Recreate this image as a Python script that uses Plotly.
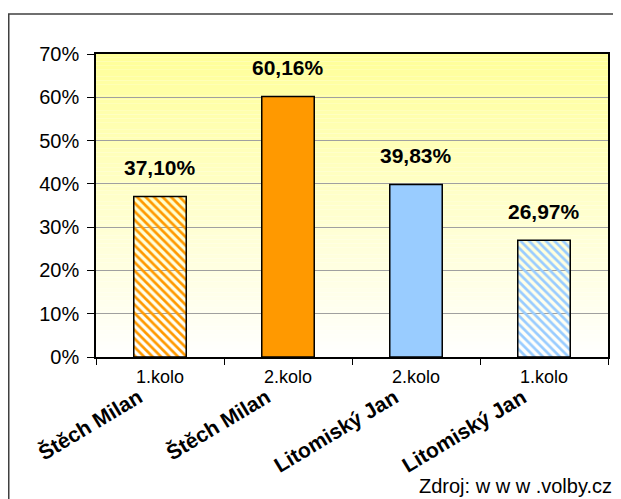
import plotly.graph_objects as go

# ---- data ----
candidates = ["Štěch Milan", "Štěch Milan", "Litomiský Jan", "Litomiský Jan"]
rounds = ["1.kolo", "2.kolo", "2.kolo", "1.kolo"]
shares = [37.10, 60.16, 39.83, 26.97]          # percent
bar_colors = ["#FF9900", "#FF9900", "#99CCFF", "#99CCFF"]
hatched = [True, False, False, True]
y_ticks = [0, 10, 20, 30, 40, 50, 60, 70]
source_text = "Zdroj: w w w .volby.cz"

FONT = "Liberation Sans, Arial, sans-serif"
idx = list(range(len(candidates)))
yvals = [v / 100 for v in shares]

fig = go.Figure()
fig.add_trace(go.Bar(
    x=idx,
    y=yvals,
    width=0.41,
    marker=dict(
        color=bar_colors,
        line=dict(color="black", width=1.5),
        pattern=dict(
            shape=["\\" if h else "" for h in hatched],
            fgcolor=bar_colors,
            bgcolor="white",
            size=6,
            solidity=0.45,
            fillmode="replace",
        ),
    ),
    showlegend=False,
    hoverinfo="skip",
))

# gradient plot background (yellow top -> white bottom)
N = 80
top = (255, 255, 153)
bot = (255, 255, 255)
for k in range(N):
    t = (k + 0.5) / N  # 0 bottom -> 1 top
    c = tuple(round(bot[j] + (top[j] - bot[j]) * t) for j in range(3))
    fig.add_shape(type="rect", xref="x domain", yref="y domain",
                  x0=0, x1=1, y0=k / N, y1=(k + 1) / N,
                  fillcolor="rgb(%d,%d,%d)" % c, line=dict(width=0),
                  layer="below")

# value labels
for i, v in enumerate(shares):
    fig.add_annotation(x=i, y=v / 100, xref="x", yref="y",
                       text=f"{v:.2f}".replace(".", ",") + "%",
                       showarrow=False, yanchor="middle", yshift=29,
                       font=dict(family=FONT, size=21, color="black", weight="bold"))

# rotated candidate names (outer category level)
for i, name in enumerate(candidates):
    fig.add_annotation(x=i, y=0, xref="x", yref="paper",
                       text="<b>%s</b>" % name, textangle=-31,
                       showarrow=False, xanchor="right", yanchor="top",
                       xshift=-11, yshift=-25,
                       font=dict(family=FONT, size=21, color="black"))

# source note
fig.add_annotation(x=1, y=0, xref="paper", yref="paper",
                   text=source_text, showarrow=False,
                   xanchor="right", yanchor="middle",
                   xshift=6, yshift=-129,
                   font=dict(family=FONT, size=20, color="black"))

# outer chart border
fig.add_shape(type="rect", xref="paper", yref="paper",
              x0=-0.1704, x1=1.2, y0=-0.7, y1=1.132,
              line=dict(color="#404040", width=1.5), fillcolor="rgba(0,0,0,0)",
              layer="above")

fig.update_layout(
    width=613, height=491, autosize=False,
    margin=dict(l=88, r=13, t=46, b=142),
    paper_bgcolor="white",
    plot_bgcolor="white",
    font=dict(family=FONT, color="black"),
    bargap=0.59,
)

fig.update_xaxes(
    range=[-0.5, 3.5],
    tickmode="array", tickvals=idx, ticktext=rounds,
    ticks="outside", ticklen=3, tickcolor="rgba(0,0,0,0)",
    tickfont=dict(family=FONT, size=18, color="black"),
    showgrid=False, zeroline=False,
    showline=True, linecolor="black", linewidth=1.5, mirror=True,
    minor=dict(tickvals=[-0.5, 0.5, 1.5, 2.5, 3.5], ticks="outside",
               ticklen=6, tickcolor="black", tickwidth=1, showgrid=False),
)

fig.update_yaxes(
    range=[0, 0.70],
    tickmode="array", tickvals=[t / 100 for t in y_ticks],
    ticktext=[f"{t}%" for t in y_ticks],
    ticks="outside", ticklen=7, tickcolor="black", tickwidth=1,
    ticklabelstandoff=4,
    tickfont=dict(family=FONT, size=20, color="black"),
    showgrid=True, gridcolor="#A0A0A0", gridwidth=1,
    zeroline=False,
    showline=True, linecolor="black", linewidth=1.5, mirror=True,
)

fig.write_html("out.html")
